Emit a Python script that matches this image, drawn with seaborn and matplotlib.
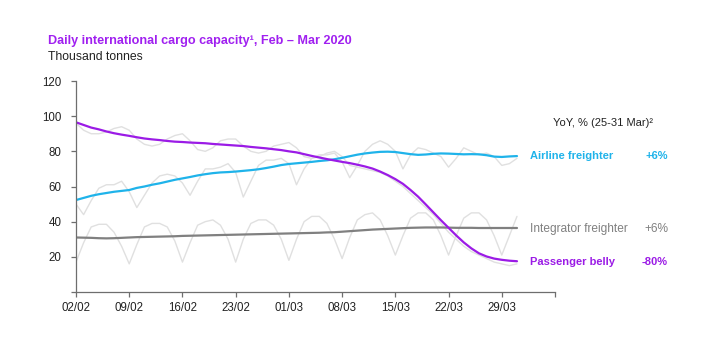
import numpy as np
import pandas as pd
import matplotlib
matplotlib.use("Agg")
import matplotlib.pyplot as plt
import seaborn as sns

# ---- data (thousand tonnes, daily from 02/02 to 31/03/2020) ----
tick_labels = ["02/02", "09/02", "16/02", "23/02", "01/03", "08/03", "15/03", "22/03", "29/03"]

passenger_daily = [96, 92, 90, 90, 91, 93, 94, 92, 87, 84, 83, 84, 87, 89, 90, 86, 81, 80, 82, 86,
                   87, 87, 83, 80, 79, 80, 83, 84, 85, 82, 77, 76, 77, 79, 80, 77, 72, 71, 70, 69,
                   68, 66, 63, 60, 56, 52, 48, 44, 39, 34, 30, 26, 23, 21, 19, 17, 16, 15, 16]
airline_daily = [50, 44, 52, 59, 61, 61, 63, 57, 48, 55, 62, 66, 67, 66, 62, 55, 63, 70, 70, 71,
                 73, 68, 54, 63, 72, 75, 75, 76, 73, 61, 70, 76, 78, 78, 79, 74, 65, 72, 80, 84,
                 86, 84, 80, 70, 78, 82, 81, 79, 77, 71, 76, 82, 80, 78, 79, 77, 72, 73, 76]
integrator_daily = [17, 28, 37, 38.5, 38.5, 34, 26, 16, 27, 37, 39, 39, 37, 29, 17, 28, 38, 40, 41, 38,
                    30, 17, 30, 39, 41, 41, 38, 30, 18, 30, 40, 43, 43, 39, 30, 19, 31, 41, 44, 45,
                    41, 32, 21, 32, 42, 45, 45, 41, 32, 21, 32, 42, 45, 45, 41, 32, 21, 32, 43]

passenger_avg = [96.5, 95, 93.5, 92.5, 91.3, 90.3, 89.5, 88.8, 88, 87.3, 86.8, 86.4, 85.9, 85.5, 85.3,
                 85, 84.8, 84.6, 84.2, 83.9, 83.6, 83.3, 83, 82.5, 82.1, 81.7, 81.2, 80.7, 80, 79.4,
                 78.4, 77.4, 76.5, 75.6, 74.8, 74, 73.3, 72.4, 71.4, 70.2, 68.5, 66.5, 64.2, 61.5, 58,
                 54.2, 49.8, 45.3, 40.8, 36.5, 32.2, 28.2, 24.8, 22, 20.2, 19, 18.3, 17.8, 17.5]
airline_avg = [52.3, 53.5, 54.7, 55.6, 56.3, 57, 57.5, 58, 59.2, 60, 61, 61.8, 62.8, 63.8, 64.6,
               65.4, 66.3, 67, 67.6, 68, 68.2, 68.5, 68.9, 69.3, 69.8, 70.5, 71.3, 72.2, 72.8, 73.2,
               73.6, 74, 74.5, 74.9, 75.5, 76.3, 77.2, 78.1, 78.8, 79.3, 79.7, 79.8, 79.6, 79, 78.4,
               78, 78.2, 78.6, 78.8, 78.7, 78.5, 78.3, 78.4, 78.3, 77.8, 77, 76.8, 77.1, 77.3]
integrator_avg = [31, 30.9, 30.8, 30.6, 30.5, 30.6, 30.8, 31, 31.2, 31.3, 31.4, 31.5, 31.6, 31.7, 31.9,
                  32, 32.1, 32.2, 32.3, 32.4, 32.5, 32.6, 32.7, 32.8, 32.9, 33, 33.1, 33.2, 33.3, 33.4,
                  33.5, 33.6, 33.7, 33.9, 34, 34.3, 34.6, 34.9, 35.2, 35.5, 35.7, 35.9, 36.1, 36.3, 36.5,
                  36.6, 36.7, 36.7, 36.7, 36.6, 36.5, 36.5, 36.5, 36.4, 36.4, 36.4, 36.4, 36.4, 36.4]

series_names = ["Airline freighter", "Integrator freighter", "Passenger belly"]
yoy_labels = ["+6%", "+6%", "-80%"]

days = np.arange(len(passenger_avg))

# ---- styling ----
sns.set_style("white")
plt.rcParams["font.family"] = ["Liberation Sans", "DejaVu Sans"]

PURPLE = "#9B1BE6"
CYAN = "#1FB3EA"
GREY = "#808080"
LIGHT = "#E0E0E0"

W, H = 710, 343
fig = plt.figure(figsize=(W / 100, H / 100), dpi=100)
ax = fig.add_axes([76 / W, 1 - 292 / H, (555 - 76) / W, (292 - 81) / H])

daily = pd.DataFrame({"day": days, "p": passenger_daily, "a": airline_daily, "i": integrator_daily})
avg = pd.DataFrame({"day": days, "p": passenger_avg, "a": airline_avg, "i": integrator_avg})

for col in ["p", "a", "i"]:
    sns.lineplot(data=daily, x="day", y=col, ax=ax, color=LIGHT, linewidth=1.0)
sns.lineplot(data=avg, x="day", y="i", ax=ax, color=GREY, linewidth=1.6)
sns.lineplot(data=avg, x="day", y="a", ax=ax, color=CYAN, linewidth=1.6)
sns.lineplot(data=avg, x="day", y="p", ax=ax, color=PURPLE, linewidth=1.6)

ax.set_xlim(0, 63)
ax.set_ylim(0, 120)
ax.set_xlabel("")
ax.set_ylabel("")
xt = np.arange(0, 64, 7)
ax.set_xticks(xt)
ax.set_xticklabels(tick_labels + [""])
ax.set_yticks([0, 20, 40, 60, 80, 100, 120])
ax.set_yticklabels(["", "20", "40", "60", "80", "100", "120"])
for s in ["top", "right"]:
    ax.spines[s].set_visible(False)
for s in ["left", "bottom"]:
    ax.spines[s].set_color("#6E6E6E")
    ax.spines[s].set_linewidth(0.9)
ax.tick_params(axis="both", which="both", direction="out", length=3.5, width=0.9,
               color="#6E6E6E", labelsize=8.3, labelcolor="#222222", bottom=True, left=True)
ax.tick_params(axis="x", pad=4)
ax.tick_params(axis="y", pad=7)

# ---- texts ----
def ft(px, py, s, **kw):
    fig.text(px / W, 1 - py / H, s, va="center", **kw)

ft(48, 41, "Daily international cargo capacity\u00b9, Feb \u2013 Mar 2020", color="#A020F0",
   fontsize=9.1, fontweight="bold")
ft(48, 57, "Thousand tonnes", color="#222222", fontsize=8.8)
ft(553, 123, "YoY, % (25-31 Mar)\u00b2", color="#222222", fontsize=8)

label_y = [156, 229, 262]
colors = [CYAN, GREY, PURPLE]
weights = ["bold", "normal", "bold"]
sizes = [8, 8.6, 8]
for name, yoy, py, c, w, fs in zip(series_names, yoy_labels, label_y, colors, weights, sizes):
    ft(530, py, name, color=c, fontsize=fs, fontweight=w)
    ft(668, py, yoy, color=c, fontsize=fs, fontweight=w, ha="right")

fig.savefig("out.png", dpi=100)
